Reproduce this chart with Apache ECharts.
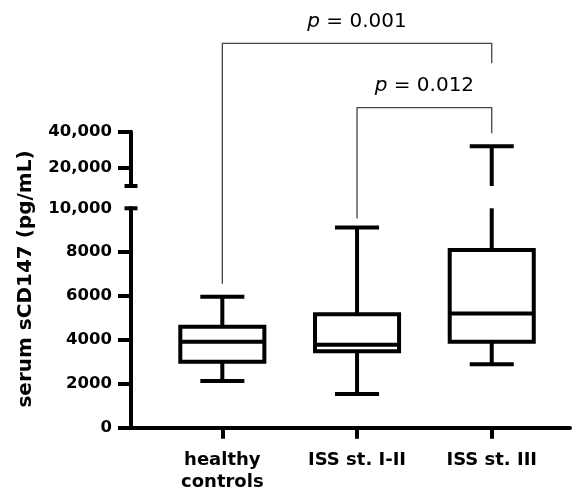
<!DOCTYPE html>
<html>
<head>
<meta charset="utf-8">
<script src="https://cdn.jsdelivr.net/npm/echarts@6/dist/echarts.min.js"></script>
<style>html,body{margin:0;padding:0;background:#fff}#c{width:574px;height:494px}</style>
</head>
<body>
<div id="c"></div>
<script>
// ---- data ----
const categories = ['healthy\ncontrols', 'ISS st. I-II', 'ISS st. III'];
const categoryPos = [1, 2, 3];
const whiskerLow = [2130, 1540, 2890];
const q1 = [3010, 3480, 3920];
const median = [3920, 3780, 5210];
const q3 = [4600, 5170, 8100];
const whiskerHigh = [5970, 9130, 32000];
const lowerTicks = [0, 2000, 4000, 6000, 8000];
const lowerLabels = [0, 2000, 4000, 6000, 8000, 10000];
const upperTicks = [20000, 40000];
const comparisons = [
  { from: 0, to: 2, label: '0.001' },
  { from: 1, to: 2, label: '0.012' }
];

// ---- layout / style ----
const FONT = 'DejaVu Sans';
const LOWER_MAX = 10000, UPPER_MAX = 40000;
const X_MIN = 0.322, X_MAX = 3.581;
const BOX_W = 0.624, CAP_W = 0.327;
const LW = 4;

const boxData = categoryPos.map((x, i) => [x, whiskerLow[i], q1[i], median[i], q3[i], whiskerHigh[i]]);
const upperData = categoryPos.map((x, i) => [x, LOWER_MAX, whiskerHigh[i]]).filter(d => d[2] > LOWER_MAX);

const lineStyle = { stroke: '#000', lineWidth: LW };
function hLine(cx, y, half) {
  return { type: 'line', shape: { x1: cx - half, y1: y, x2: cx + half, y2: y }, style: lineStyle };
}
function vLine(x, y1, y2) {
  return { type: 'line', shape: { x1: x, y1: y1, x2: x, y2: y2 }, style: lineStyle };
}

function renderBox(params, api) {
  const x = api.value(0);
  const lo = api.value(1), a = api.value(2), m = api.value(3), b = api.value(4), hi = api.value(5);
  const cx = api.coord([x, 0])[0];
  const half = api.size([BOX_W, 0])[0] / 2;
  const capHalf = api.size([CAP_W, 0])[0] / 2;
  const Y = v => api.coord([x, Math.min(v, LOWER_MAX)])[1];
  const children = [];
  // lower whisker
  children.push(vLine(cx, Y(a), Y(lo)));
  children.push(hLine(cx, Y(lo), capHalf));
  // upper whisker
  children.push(vLine(cx, Y(b), Y(hi)));
  if (hi <= LOWER_MAX) children.push(hLine(cx, Y(hi), capHalf));
  // box
  children.push({ type: 'rect', shape: { x: cx - half, y: Y(b), width: 2 * half, height: Y(a) - Y(b) },
    style: { fill: '#fff', stroke: '#000', lineWidth: LW } });
  children.push(hLine(cx, Y(m), half));
  return { type: 'group', children: children };
}

function renderUpper(params, api) {
  const x = api.value(0);
  const cx = api.coord([x, 0])[0];
  const capHalf = api.size([CAP_W, 0])[0] / 2;
  const y1 = api.coord([x, api.value(1)])[1];
  const y2 = api.coord([x, api.value(2)])[1];
  return { type: 'group', children: [vLine(cx, y1, y2), hLine(cx, y2, capHalf)] };
}

function breakCap(atTop) {
  return function (params) {
    const cs = params.coordSys;
    const y = atTop ? cs.y : cs.y + cs.height;
    return hLine(cs.x, y, 6.5);
  };
}

const axisLabelStyle = { color: '#000', fontFamily: FONT, fontWeight: 'bold', fontSize: 16.5 };
const fmt = v => v >= 10000 ? v.toLocaleString('en-US') : String(v);

const chart = echarts.init(document.getElementById('c'), null, { renderer: 'canvas' });
chart.setOption({
  animation: false,
  backgroundColor: '#fff',
  grid: [
    { left: 131, right: 4, top: 208.3, height: 219.4 },
    { left: 131, right: 4, top: 131.7, height: 54.3 }
  ],
  xAxis: [
    {
      gridIndex: 0, type: 'value', min: X_MIN, max: X_MAX,
      axisLine: { show: true, lineStyle: { color: '#000', width: LW } },
      axisTick: { show: true, customValues: categoryPos, length: 11, lineStyle: { color: '#000', width: LW } },
      axisLabel: { customValues: categoryPos, formatter: v => categories[Math.round(v) - 1], margin: 21,
        color: '#000', fontFamily: FONT, fontWeight: 'bold', fontSize: 18, lineHeight: 22.5 },
      splitLine: { show: false }
    },
    { gridIndex: 1, type: 'value', min: X_MIN, max: X_MAX, show: false, splitLine: { show: false } }
  ],
  yAxis: [
    {
      gridIndex: 0, type: 'value', min: 0, max: LOWER_MAX, interval: 2000,
      axisLine: { show: true, lineStyle: { color: '#000', width: LW, cap: 'square' } },
      axisTick: { show: true, customValues: lowerTicks, length: 13, lineStyle: { color: '#000', width: LW } },
      axisLabel: Object.assign({ customValues: lowerLabels, formatter: fmt, margin: 19 }, axisLabelStyle),
      splitLine: { show: false }
    },
    {
      gridIndex: 1, type: 'value', min: LOWER_MAX, max: UPPER_MAX,
      axisLine: { show: true, lineStyle: { color: '#000', width: LW } },
      axisTick: { show: true, customValues: upperTicks, length: 13, lineStyle: { color: '#000', width: LW } },
      axisLabel: Object.assign({ customValues: upperTicks, formatter: fmt, margin: 19 }, axisLabelStyle),
      splitLine: { show: false }
    }
  ],
  series: [
    { type: 'custom', xAxisIndex: 0, yAxisIndex: 0, data: boxData, renderItem: renderBox, clip: false, silent: true },
    { type: 'custom', xAxisIndex: 1, yAxisIndex: 1, data: upperData, renderItem: renderUpper, clip: false, silent: true },
    { type: 'custom', xAxisIndex: 0, yAxisIndex: 0, data: [[X_MIN, LOWER_MAX]], renderItem: breakCap(true), clip: false, silent: true },
    { type: 'custom', xAxisIndex: 1, yAxisIndex: 1, data: [[X_MIN, LOWER_MAX]], renderItem: breakCap(false), clip: false, silent: true }
  ]
});

// ---- annotations: axis title and significance brackets ----
const bracketTop = [43.3, 107.7];
const bracketRight = [63.3, 133.3];
const textY = [22, 86];
const px = i => chart.convertToPixel({ xAxisIndex: 0 }, categoryPos[i]);
const graphics = [{
  type: 'text', x: 26, y: 279, rotation: Math.PI / 2,
  style: { text: 'serum sCD147 (pg/mL)', fill: '#000', font: 'bold 20px "DejaVu Sans"', align: 'center', verticalAlign: 'middle' }
}];
comparisons.forEach((c, k) => {
  const x1 = px(c.from), x2 = px(c.to);
  const leftBottom = chart.convertToPixel({ yAxisIndex: 0 }, Math.min(whiskerHigh[c.from], LOWER_MAX)) - (k === 0 ? 13 : 9);
  graphics.push({
    type: 'polyline',
    shape: { points: [[x1, leftBottom], [x1, bracketTop[k]], [x2, bracketTop[k]], [x2, bracketRight[k]]] },
    style: { stroke: '#444', lineWidth: 1.3, fill: null }
  });
  graphics.push({
    type: 'text', x: (x1 + x2) / 2, y: textY[k],
    style: {
      text: '{i|p} = ' + c.label, fill: '#000', font: '20px "DejaVu Sans"', align: 'center', verticalAlign: 'middle',
      rich: { i: { fontStyle: 'italic', fontFamily: FONT, fontSize: 20, fill: '#000' } }
    }
  });
});
chart.setOption({ graphic: graphics });
</script>
</body>
</html>
